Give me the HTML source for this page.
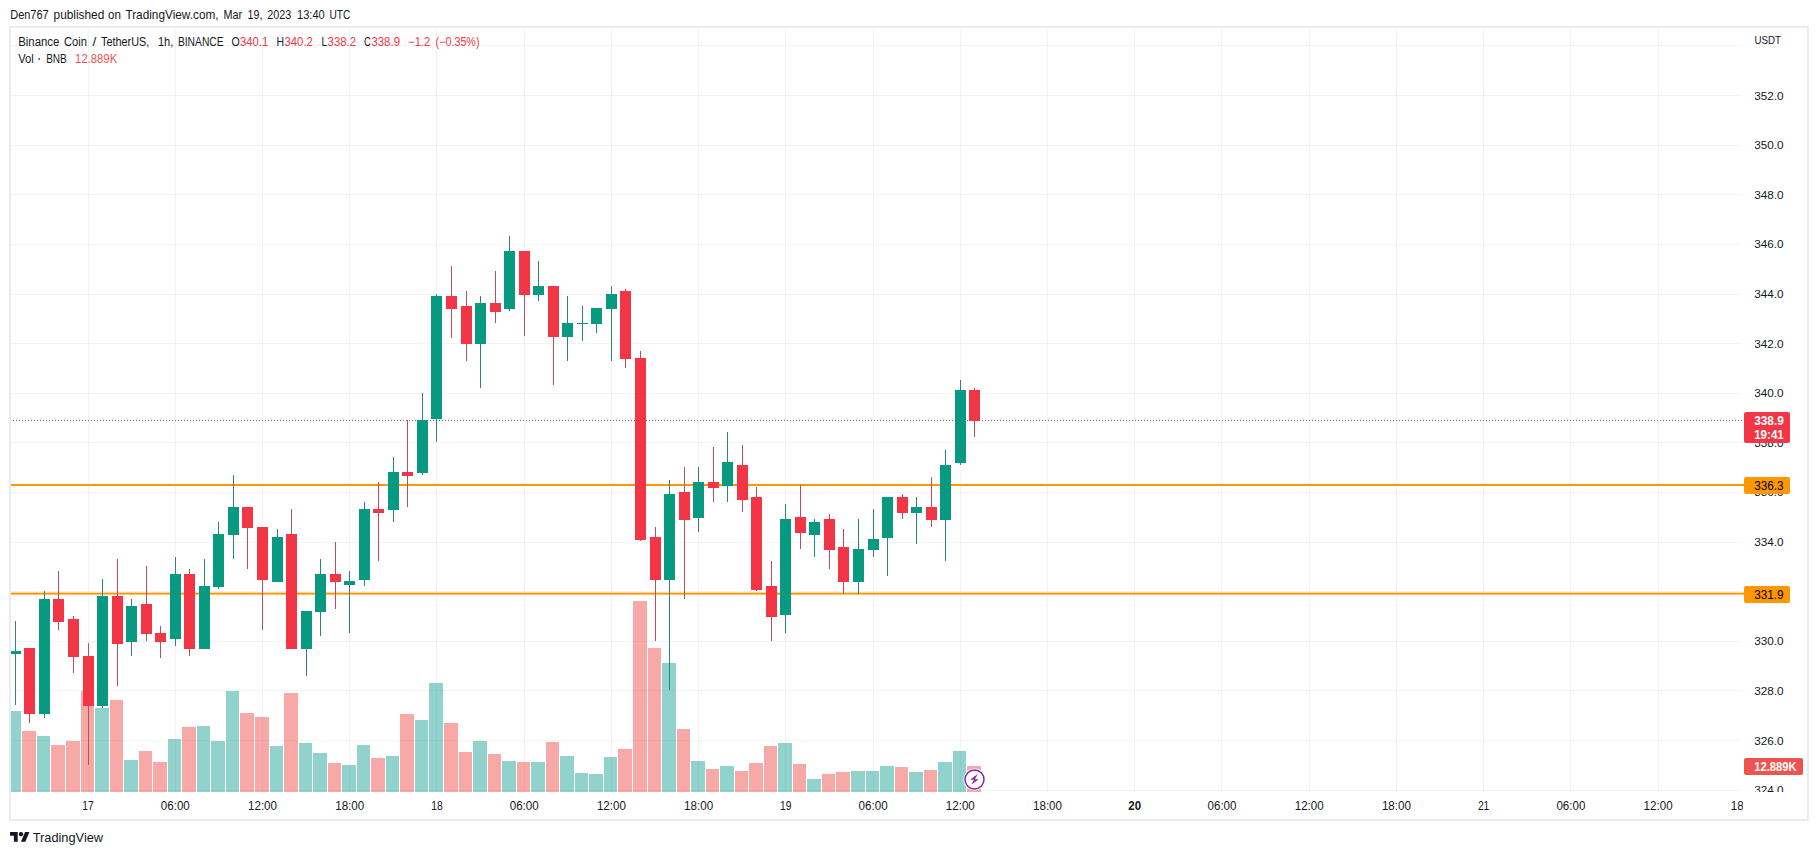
<!DOCTYPE html>
<html lang="en"><head><meta charset="utf-8"><title>BNBUSDT chart</title>
<style>
html,body{margin:0;padding:0;background:#fff}
body{width:1818px;height:855px;overflow:hidden;font-family:"Liberation Sans",sans-serif}
svg{display:block}
text{font-family:"Liberation Sans",sans-serif}
</style></head><body>
<svg width="1818" height="855" viewBox="0 0 1818 855">
<defs><linearGradient id="fade" x1="0" x2="1" y1="0" y2="0"><stop offset="0" stop-color="#fff" stop-opacity="0"/><stop offset="0.12" stop-color="#fff" stop-opacity="1"/><stop offset="1" stop-color="#fff" stop-opacity="1"/></linearGradient></defs>
<rect x="10" y="27" width="1798" height="793" fill="#fff" stroke="#ececee" stroke-width="2" shape-rendering="crispEdges"/>
<g shape-rendering="crispEdges" fill="#2a2e39" fill-opacity="0.06">
<rect x="88" y="28" width="1" height="764"/>
<rect x="175" y="28" width="1" height="764"/>
<rect x="262" y="28" width="1" height="764"/>
<rect x="349" y="28" width="1" height="764"/>
<rect x="436" y="28" width="1" height="764"/>
<rect x="524" y="28" width="1" height="764"/>
<rect x="611" y="28" width="1" height="764"/>
<rect x="698" y="28" width="1" height="764"/>
<rect x="785" y="28" width="1" height="764"/>
<rect x="873" y="28" width="1" height="764"/>
<rect x="960" y="28" width="1" height="764"/>
<rect x="1047" y="28" width="1" height="764"/>
<rect x="1134" y="28" width="1" height="764"/>
<rect x="1221" y="28" width="1" height="764"/>
<rect x="1309" y="28" width="1" height="764"/>
<rect x="1396" y="28" width="1" height="764"/>
<rect x="1483" y="28" width="1" height="764"/>
<rect x="1570" y="28" width="1" height="764"/>
<rect x="1658" y="28" width="1" height="764"/>
<rect x="11" y="45" width="1734" height="1"/>
<rect x="11" y="95" width="1734" height="1"/>
<rect x="11" y="145" width="1734" height="1"/>
<rect x="11" y="194" width="1734" height="1"/>
<rect x="11" y="244" width="1734" height="1"/>
<rect x="11" y="294" width="1734" height="1"/>
<rect x="11" y="343" width="1734" height="1"/>
<rect x="11" y="393" width="1734" height="1"/>
<rect x="11" y="442" width="1734" height="1"/>
<rect x="11" y="492" width="1734" height="1"/>
<rect x="11" y="542" width="1734" height="1"/>
<rect x="11" y="591" width="1734" height="1"/>
<rect x="11" y="641" width="1734" height="1"/>
<rect x="11" y="690" width="1734" height="1"/>
<rect x="11" y="740" width="1734" height="1"/>
<rect x="11" y="790" width="1734" height="1"/>
</g>
<rect x="1737" y="28" width="70" height="764" fill="url(#fade)"/>
<g shape-rendering="crispEdges">
<rect x="11" y="711" width="10" height="81" fill="#26a69a" fill-opacity="0.5"/>
<rect x="22" y="731" width="14" height="61" fill="#ef5350" fill-opacity="0.5"/>
<rect x="37" y="736" width="13" height="56" fill="#26a69a" fill-opacity="0.5"/>
<rect x="51" y="745" width="14" height="47" fill="#ef5350" fill-opacity="0.5"/>
<rect x="66" y="741" width="14" height="51" fill="#ef5350" fill-opacity="0.5"/>
<rect x="81" y="691" width="13" height="101" fill="#ef5350" fill-opacity="0.5"/>
<rect x="95" y="708" width="14" height="84" fill="#26a69a" fill-opacity="0.5"/>
<rect x="110" y="700" width="13" height="92" fill="#ef5350" fill-opacity="0.5"/>
<rect x="124" y="760" width="14" height="32" fill="#26a69a" fill-opacity="0.5"/>
<rect x="139" y="751" width="13" height="41" fill="#ef5350" fill-opacity="0.5"/>
<rect x="153" y="762" width="14" height="30" fill="#ef5350" fill-opacity="0.5"/>
<rect x="168" y="739" width="13" height="53" fill="#26a69a" fill-opacity="0.5"/>
<rect x="182" y="727" width="14" height="65" fill="#ef5350" fill-opacity="0.5"/>
<rect x="197" y="726" width="13" height="66" fill="#26a69a" fill-opacity="0.5"/>
<rect x="211" y="741" width="14" height="51" fill="#26a69a" fill-opacity="0.5"/>
<rect x="226" y="691" width="13" height="101" fill="#26a69a" fill-opacity="0.5"/>
<rect x="240" y="713" width="14" height="79" fill="#ef5350" fill-opacity="0.5"/>
<rect x="255" y="717" width="14" height="75" fill="#ef5350" fill-opacity="0.5"/>
<rect x="270" y="746" width="13" height="46" fill="#26a69a" fill-opacity="0.5"/>
<rect x="284" y="693" width="14" height="99" fill="#ef5350" fill-opacity="0.5"/>
<rect x="299" y="743" width="13" height="49" fill="#26a69a" fill-opacity="0.5"/>
<rect x="313" y="753" width="14" height="39" fill="#26a69a" fill-opacity="0.5"/>
<rect x="328" y="763" width="13" height="29" fill="#ef5350" fill-opacity="0.5"/>
<rect x="342" y="765" width="14" height="27" fill="#26a69a" fill-opacity="0.5"/>
<rect x="357" y="745" width="13" height="47" fill="#26a69a" fill-opacity="0.5"/>
<rect x="371" y="758" width="14" height="34" fill="#ef5350" fill-opacity="0.5"/>
<rect x="386" y="756" width="13" height="36" fill="#26a69a" fill-opacity="0.5"/>
<rect x="400" y="714" width="14" height="78" fill="#ef5350" fill-opacity="0.5"/>
<rect x="415" y="720" width="13" height="72" fill="#26a69a" fill-opacity="0.5"/>
<rect x="429" y="683" width="14" height="109" fill="#26a69a" fill-opacity="0.5"/>
<rect x="444" y="723" width="14" height="69" fill="#ef5350" fill-opacity="0.5"/>
<rect x="459" y="752" width="13" height="40" fill="#ef5350" fill-opacity="0.5"/>
<rect x="473" y="741" width="14" height="51" fill="#26a69a" fill-opacity="0.5"/>
<rect x="488" y="754" width="13" height="38" fill="#ef5350" fill-opacity="0.5"/>
<rect x="502" y="761" width="14" height="31" fill="#26a69a" fill-opacity="0.5"/>
<rect x="517" y="762" width="13" height="30" fill="#ef5350" fill-opacity="0.5"/>
<rect x="531" y="762" width="14" height="30" fill="#26a69a" fill-opacity="0.5"/>
<rect x="546" y="742" width="13" height="50" fill="#ef5350" fill-opacity="0.5"/>
<rect x="560" y="756" width="14" height="36" fill="#26a69a" fill-opacity="0.5"/>
<rect x="575" y="773" width="13" height="19" fill="#26a69a" fill-opacity="0.5"/>
<rect x="589" y="774" width="14" height="18" fill="#26a69a" fill-opacity="0.5"/>
<rect x="604" y="757" width="13" height="35" fill="#26a69a" fill-opacity="0.5"/>
<rect x="618" y="749" width="14" height="43" fill="#ef5350" fill-opacity="0.5"/>
<rect x="633" y="601" width="14" height="191" fill="#ef5350" fill-opacity="0.5"/>
<rect x="648" y="648" width="13" height="144" fill="#ef5350" fill-opacity="0.5"/>
<rect x="662" y="663" width="14" height="129" fill="#26a69a" fill-opacity="0.5"/>
<rect x="677" y="729" width="13" height="63" fill="#ef5350" fill-opacity="0.5"/>
<rect x="691" y="761" width="14" height="31" fill="#26a69a" fill-opacity="0.5"/>
<rect x="706" y="769" width="13" height="23" fill="#ef5350" fill-opacity="0.5"/>
<rect x="720" y="766" width="14" height="26" fill="#26a69a" fill-opacity="0.5"/>
<rect x="735" y="771" width="13" height="21" fill="#ef5350" fill-opacity="0.5"/>
<rect x="749" y="763" width="14" height="29" fill="#ef5350" fill-opacity="0.5"/>
<rect x="764" y="746" width="13" height="46" fill="#ef5350" fill-opacity="0.5"/>
<rect x="778" y="743" width="14" height="49" fill="#26a69a" fill-opacity="0.5"/>
<rect x="793" y="764" width="13" height="28" fill="#ef5350" fill-opacity="0.5"/>
<rect x="807" y="779" width="14" height="13" fill="#26a69a" fill-opacity="0.5"/>
<rect x="822" y="774" width="13" height="18" fill="#ef5350" fill-opacity="0.5"/>
<rect x="836" y="772" width="14" height="20" fill="#ef5350" fill-opacity="0.5"/>
<rect x="851" y="771" width="14" height="21" fill="#26a69a" fill-opacity="0.5"/>
<rect x="866" y="771" width="13" height="21" fill="#26a69a" fill-opacity="0.5"/>
<rect x="880" y="766" width="14" height="26" fill="#26a69a" fill-opacity="0.5"/>
<rect x="895" y="767" width="13" height="25" fill="#ef5350" fill-opacity="0.5"/>
<rect x="909" y="772" width="14" height="20" fill="#26a69a" fill-opacity="0.5"/>
<rect x="924" y="770" width="13" height="22" fill="#ef5350" fill-opacity="0.5"/>
<rect x="938" y="762" width="14" height="30" fill="#26a69a" fill-opacity="0.5"/>
<rect x="953" y="751" width="13" height="41" fill="#26a69a" fill-opacity="0.5"/>
<rect x="967" y="766" width="14" height="26" fill="#ef5350" fill-opacity="0.5"/>
</g>
<g shape-rendering="crispEdges">
<rect x="11" y="484" width="1733" height="2" fill="#FF9800"/>
<rect x="11" y="592.6" width="1733" height="2" fill="#FF9800" shape-rendering="geometricPrecision"/>
</g>
<line x1="13" y1="420.5" x2="1742" y2="420.5" stroke="#96586a" stroke-width="1" stroke-dasharray="1 2" shape-rendering="crispEdges"/>
<g shape-rendering="crispEdges">
<rect x="15" y="621" width="1" height="84" fill="#2a8676"/>
<rect x="11" y="651" width="10" height="3" fill="#089981"/>
<rect x="29" y="648" width="1" height="75" fill="#b94f5c"/>
<rect x="24" y="648" width="11" height="66" fill="#F23645"/>
<rect x="44" y="591" width="1" height="127" fill="#2a8676"/>
<rect x="39" y="599" width="11" height="115" fill="#089981"/>
<rect x="58" y="571" width="1" height="59" fill="#b94f5c"/>
<rect x="53" y="599" width="11" height="23" fill="#F23645"/>
<rect x="73" y="616" width="1" height="57" fill="#b94f5c"/>
<rect x="68" y="619" width="11" height="38" fill="#F23645"/>
<rect x="88" y="643" width="1" height="122" fill="#b94f5c"/>
<rect x="83" y="656" width="11" height="50" fill="#F23645"/>
<rect x="102" y="579" width="1" height="129" fill="#2a8676"/>
<rect x="97" y="596" width="11" height="110" fill="#089981"/>
<rect x="117" y="559" width="1" height="127" fill="#b94f5c"/>
<rect x="112" y="596" width="11" height="48" fill="#F23645"/>
<rect x="131" y="599" width="1" height="57" fill="#2a8676"/>
<rect x="126" y="606" width="11" height="36" fill="#089981"/>
<rect x="146" y="566" width="1" height="75" fill="#b94f5c"/>
<rect x="141" y="604" width="11" height="30" fill="#F23645"/>
<rect x="160" y="626" width="1" height="32" fill="#b94f5c"/>
<rect x="155" y="633" width="11" height="9" fill="#F23645"/>
<rect x="175" y="557" width="1" height="89" fill="#2a8676"/>
<rect x="170" y="574" width="11" height="65" fill="#089981"/>
<rect x="189" y="569" width="1" height="87" fill="#b94f5c"/>
<rect x="184" y="574" width="11" height="75" fill="#F23645"/>
<rect x="204" y="559" width="1" height="90" fill="#2a8676"/>
<rect x="199" y="586" width="11" height="63" fill="#089981"/>
<rect x="218" y="522" width="1" height="67" fill="#2a8676"/>
<rect x="213" y="534" width="11" height="53" fill="#089981"/>
<rect x="233" y="475" width="1" height="84" fill="#2a8676"/>
<rect x="228" y="507" width="11" height="28" fill="#089981"/>
<rect x="247" y="507" width="1" height="62" fill="#b94f5c"/>
<rect x="242" y="507" width="11" height="21" fill="#F23645"/>
<rect x="262" y="527" width="1" height="103" fill="#b94f5c"/>
<rect x="257" y="527" width="11" height="53" fill="#F23645"/>
<rect x="277" y="529" width="1" height="53" fill="#2a8676"/>
<rect x="272" y="537" width="11" height="45" fill="#089981"/>
<rect x="291" y="509" width="1" height="140" fill="#b94f5c"/>
<rect x="286" y="534" width="11" height="115" fill="#F23645"/>
<rect x="306" y="611" width="1" height="65" fill="#2a8676"/>
<rect x="301" y="611" width="11" height="38" fill="#089981"/>
<rect x="320" y="559" width="1" height="77" fill="#2a8676"/>
<rect x="315" y="574" width="11" height="38" fill="#089981"/>
<rect x="335" y="542" width="1" height="67" fill="#b94f5c"/>
<rect x="330" y="574" width="11" height="8" fill="#F23645"/>
<rect x="349" y="571" width="1" height="62" fill="#2a8676"/>
<rect x="344" y="581" width="11" height="4" fill="#089981"/>
<rect x="364" y="502" width="1" height="84" fill="#2a8676"/>
<rect x="359" y="509" width="11" height="71" fill="#089981"/>
<rect x="378" y="482" width="1" height="79" fill="#b94f5c"/>
<rect x="373" y="509" width="11" height="4" fill="#F23645"/>
<rect x="393" y="457" width="1" height="65" fill="#2a8676"/>
<rect x="388" y="472" width="11" height="38" fill="#089981"/>
<rect x="407" y="420" width="1" height="87" fill="#b94f5c"/>
<rect x="402" y="472" width="11" height="4" fill="#F23645"/>
<rect x="422" y="393" width="1" height="82" fill="#2a8676"/>
<rect x="417" y="420" width="11" height="53" fill="#089981"/>
<rect x="436" y="294" width="1" height="148" fill="#2a8676"/>
<rect x="431" y="296" width="11" height="123" fill="#089981"/>
<rect x="451" y="266" width="1" height="72" fill="#b94f5c"/>
<rect x="446" y="296" width="11" height="13" fill="#F23645"/>
<rect x="466" y="291" width="1" height="70" fill="#b94f5c"/>
<rect x="461" y="306" width="11" height="38" fill="#F23645"/>
<rect x="480" y="296" width="1" height="92" fill="#2a8676"/>
<rect x="475" y="303" width="11" height="41" fill="#089981"/>
<rect x="495" y="271" width="1" height="52" fill="#b94f5c"/>
<rect x="490" y="303" width="11" height="9" fill="#F23645"/>
<rect x="509" y="236" width="1" height="75" fill="#2a8676"/>
<rect x="504" y="251" width="11" height="58" fill="#089981"/>
<rect x="524" y="251" width="1" height="85" fill="#b94f5c"/>
<rect x="519" y="251" width="11" height="44" fill="#F23645"/>
<rect x="538" y="261" width="1" height="40" fill="#2a8676"/>
<rect x="533" y="286" width="11" height="9" fill="#089981"/>
<rect x="553" y="286" width="1" height="99" fill="#b94f5c"/>
<rect x="548" y="286" width="11" height="51" fill="#F23645"/>
<rect x="567" y="296" width="1" height="65" fill="#2a8676"/>
<rect x="562" y="323" width="11" height="14" fill="#089981"/>
<rect x="582" y="306" width="1" height="35" fill="#2a8676"/>
<rect x="577" y="323" width="11" height="1" fill="#089981"/>
<rect x="596" y="308" width="1" height="25" fill="#2a8676"/>
<rect x="591" y="308" width="11" height="16" fill="#089981"/>
<rect x="611" y="286" width="1" height="75" fill="#2a8676"/>
<rect x="606" y="294" width="11" height="15" fill="#089981"/>
<rect x="625" y="289" width="1" height="79" fill="#b94f5c"/>
<rect x="620" y="291" width="11" height="68" fill="#F23645"/>
<rect x="640" y="351" width="1" height="190" fill="#b94f5c"/>
<rect x="635" y="358" width="11" height="182" fill="#F23645"/>
<rect x="655" y="527" width="1" height="114" fill="#b94f5c"/>
<rect x="650" y="537" width="11" height="43" fill="#F23645"/>
<rect x="669" y="480" width="1" height="210" fill="#2a8676"/>
<rect x="664" y="494" width="11" height="86" fill="#089981"/>
<rect x="684" y="467" width="1" height="132" fill="#b94f5c"/>
<rect x="679" y="492" width="11" height="28" fill="#F23645"/>
<rect x="698" y="467" width="1" height="65" fill="#2a8676"/>
<rect x="693" y="482" width="11" height="36" fill="#089981"/>
<rect x="713" y="447" width="1" height="55" fill="#b94f5c"/>
<rect x="708" y="482" width="11" height="6" fill="#F23645"/>
<rect x="727" y="432" width="1" height="70" fill="#2a8676"/>
<rect x="722" y="462" width="11" height="24" fill="#089981"/>
<rect x="742" y="445" width="1" height="67" fill="#b94f5c"/>
<rect x="737" y="465" width="11" height="35" fill="#F23645"/>
<rect x="756" y="487" width="1" height="104" fill="#b94f5c"/>
<rect x="751" y="497" width="11" height="93" fill="#F23645"/>
<rect x="771" y="561" width="1" height="80" fill="#b94f5c"/>
<rect x="766" y="586" width="11" height="31" fill="#F23645"/>
<rect x="785" y="504" width="1" height="129" fill="#2a8676"/>
<rect x="780" y="519" width="11" height="96" fill="#089981"/>
<rect x="800" y="485" width="1" height="64" fill="#b94f5c"/>
<rect x="795" y="517" width="11" height="16" fill="#F23645"/>
<rect x="814" y="519" width="1" height="38" fill="#2a8676"/>
<rect x="809" y="522" width="11" height="13" fill="#089981"/>
<rect x="829" y="514" width="1" height="55" fill="#b94f5c"/>
<rect x="824" y="519" width="11" height="31" fill="#F23645"/>
<rect x="843" y="529" width="1" height="65" fill="#b94f5c"/>
<rect x="838" y="547" width="11" height="35" fill="#F23645"/>
<rect x="858" y="519" width="1" height="75" fill="#2a8676"/>
<rect x="853" y="549" width="11" height="33" fill="#089981"/>
<rect x="873" y="509" width="1" height="48" fill="#2a8676"/>
<rect x="868" y="539" width="11" height="11" fill="#089981"/>
<rect x="887" y="497" width="1" height="79" fill="#2a8676"/>
<rect x="882" y="497" width="11" height="41" fill="#089981"/>
<rect x="902" y="494" width="1" height="25" fill="#b94f5c"/>
<rect x="897" y="497" width="11" height="16" fill="#F23645"/>
<rect x="916" y="497" width="1" height="47" fill="#2a8676"/>
<rect x="911" y="507" width="11" height="6" fill="#089981"/>
<rect x="931" y="477" width="1" height="50" fill="#b94f5c"/>
<rect x="926" y="507" width="11" height="13" fill="#F23645"/>
<rect x="945" y="450" width="1" height="111" fill="#2a8676"/>
<rect x="940" y="465" width="11" height="55" fill="#089981"/>
<rect x="960" y="380" width="1" height="85" fill="#2a8676"/>
<rect x="955" y="390" width="11" height="73" fill="#089981"/>
<rect x="974" y="388" width="1" height="49" fill="#b94f5c"/>
<rect x="969" y="390" width="11" height="31" fill="#F23645"/>
</g>
<clipPath id="axclip"><rect x="1744" y="28" width="63" height="764"/></clipPath>
<g clip-path="url(#axclip)">
<text x="1754.2" y="793.7" font-size="11.5" fill="#131722" textLength="29.4" lengthAdjust="spacingAndGlyphs" >324.0</text>
<text x="1754.2" y="744.7" font-size="11.5" fill="#131722" textLength="29.4" lengthAdjust="spacingAndGlyphs" >326.0</text>
<text x="1754.2" y="694.7" font-size="11.5" fill="#131722" textLength="29.4" lengthAdjust="spacingAndGlyphs" >328.0</text>
<text x="1754.2" y="644.7" font-size="11.5" fill="#131722" textLength="29.4" lengthAdjust="spacingAndGlyphs" >330.0</text>
<text x="1754.2" y="595.7" font-size="11.5" fill="#131722" textLength="29.4" lengthAdjust="spacingAndGlyphs" >332.0</text>
<text x="1754.2" y="545.7" font-size="11.5" fill="#131722" textLength="29.4" lengthAdjust="spacingAndGlyphs" >334.0</text>
<text x="1754.2" y="495.7" font-size="11.5" fill="#131722" textLength="29.4" lengthAdjust="spacingAndGlyphs" >336.0</text>
<text x="1754.2" y="446.7" font-size="11.5" fill="#131722" textLength="29.4" lengthAdjust="spacingAndGlyphs" >338.0</text>
<text x="1754.2" y="396.7" font-size="11.5" fill="#131722" textLength="29.4" lengthAdjust="spacingAndGlyphs" >340.0</text>
<text x="1754.2" y="347.7" font-size="11.5" fill="#131722" textLength="29.4" lengthAdjust="spacingAndGlyphs" >342.0</text>
<text x="1754.2" y="297.7" font-size="11.5" fill="#131722" textLength="29.4" lengthAdjust="spacingAndGlyphs" >344.0</text>
<text x="1754.2" y="247.7" font-size="11.5" fill="#131722" textLength="29.4" lengthAdjust="spacingAndGlyphs" >346.0</text>
<text x="1754.2" y="198.7" font-size="11.5" fill="#131722" textLength="29.4" lengthAdjust="spacingAndGlyphs" >348.0</text>
<text x="1754.2" y="148.7" font-size="11.5" fill="#131722" textLength="29.4" lengthAdjust="spacingAndGlyphs" >350.0</text>
<text x="1754.2" y="99.7" font-size="11.5" fill="#131722" textLength="29.4" lengthAdjust="spacingAndGlyphs" >352.0</text>
</g>
<text x="1754.4" y="44.0" font-size="11.5" fill="#131722" textLength="26.5" lengthAdjust="spacingAndGlyphs" >USDT</text>
<rect x="1744" y="412" width="46" height="31" rx="2" fill="#F23645"/>
<text x="1754.2" y="424.6" font-size="12" fill="#fff" font-weight="bold" textLength="29.6" lengthAdjust="spacingAndGlyphs" >338.9</text>
<text x="1754.2" y="439.2" font-size="12" fill="#fff" font-weight="bold" textLength="29.6" lengthAdjust="spacingAndGlyphs" >19:41</text>
<rect x="1744" y="477" width="46" height="17" rx="2" fill="#FF9800"/>
<text x="1754.2" y="489.8" font-size="12" fill="#000" textLength="29.4" lengthAdjust="spacingAndGlyphs" >336.3</text>
<rect x="1744" y="586" width="46" height="17" rx="2" fill="#FF9800"/>
<text x="1754.2" y="598.8" font-size="12" fill="#000" textLength="29.4" lengthAdjust="spacingAndGlyphs" >331.9</text>
<rect x="1744" y="758" width="59" height="17" rx="2" fill="#ef5350"/>
<text x="1754.2" y="770.8" font-size="12" fill="#fff" font-weight="bold" textLength="42.5" lengthAdjust="spacingAndGlyphs" >12.889K</text>
<clipPath id="tclip"><rect x="11" y="792" width="1732" height="27"/></clipPath>
<g clip-path="url(#tclip)">
<text x="82.3" y="810" font-size="12" fill="#131722" textLength="11.4" lengthAdjust="spacingAndGlyphs" >17</text>
<text x="160.8" y="810" font-size="12" fill="#131722" textLength="29.0" lengthAdjust="spacingAndGlyphs" >06:00</text>
<text x="248.0" y="810" font-size="12" fill="#131722" textLength="29.0" lengthAdjust="spacingAndGlyphs" >12:00</text>
<text x="335.2" y="810" font-size="12" fill="#131722" textLength="29.0" lengthAdjust="spacingAndGlyphs" >18:00</text>
<text x="431.2" y="810" font-size="12" fill="#131722" textLength="11.4" lengthAdjust="spacingAndGlyphs" >18</text>
<text x="509.7" y="810" font-size="12" fill="#131722" textLength="29.0" lengthAdjust="spacingAndGlyphs" >06:00</text>
<text x="596.9" y="810" font-size="12" fill="#131722" textLength="29.0" lengthAdjust="spacingAndGlyphs" >12:00</text>
<text x="684.1" y="810" font-size="12" fill="#131722" textLength="29.0" lengthAdjust="spacingAndGlyphs" >18:00</text>
<text x="780.1" y="810" font-size="12" fill="#131722" textLength="11.4" lengthAdjust="spacingAndGlyphs" >19</text>
<text x="858.6" y="810" font-size="12" fill="#131722" textLength="29.0" lengthAdjust="spacingAndGlyphs" >06:00</text>
<text x="945.8" y="810" font-size="12" fill="#131722" textLength="29.0" lengthAdjust="spacingAndGlyphs" >12:00</text>
<text x="1033.0" y="810" font-size="12" fill="#131722" textLength="29.0" lengthAdjust="spacingAndGlyphs" >18:00</text>
<text x="1128.3" y="810" font-size="12" fill="#131722" font-weight="bold" textLength="12.8" lengthAdjust="spacingAndGlyphs" >20</text>
<text x="1207.5" y="810" font-size="12" fill="#131722" textLength="29.0" lengthAdjust="spacingAndGlyphs" >06:00</text>
<text x="1294.7" y="810" font-size="12" fill="#131722" textLength="29.0" lengthAdjust="spacingAndGlyphs" >12:00</text>
<text x="1381.9" y="810" font-size="12" fill="#131722" textLength="29.0" lengthAdjust="spacingAndGlyphs" >18:00</text>
<text x="1477.9" y="810" font-size="12" fill="#131722" textLength="11.4" lengthAdjust="spacingAndGlyphs" >21</text>
<text x="1556.4" y="810" font-size="12" fill="#131722" textLength="29.0" lengthAdjust="spacingAndGlyphs" >06:00</text>
<text x="1643.6" y="810" font-size="12" fill="#131722" textLength="29.0" lengthAdjust="spacingAndGlyphs" >12:00</text>
<text x="1730.8" y="810" font-size="12" fill="#131722" textLength="29.0" lengthAdjust="spacingAndGlyphs" >18:00</text>
</g>
<text x="10.2" y="18.9" font-size="13" fill="#131722" textLength="38.5" lengthAdjust="spacingAndGlyphs" >Den767</text>
<text x="53.6" y="18.9" font-size="13" fill="#131722" textLength="50.7" lengthAdjust="spacingAndGlyphs" >published</text>
<text x="108.1" y="18.9" font-size="13" fill="#131722" textLength="12.9" lengthAdjust="spacingAndGlyphs" >on</text>
<text x="125.4" y="18.9" font-size="13" fill="#131722" textLength="93.2" lengthAdjust="spacingAndGlyphs" >TradingView.com,</text>
<text x="223.6" y="18.9" font-size="13" fill="#131722" textLength="18.6" lengthAdjust="spacingAndGlyphs" >Mar</text>
<text x="247.6" y="18.9" font-size="13" fill="#131722" textLength="14.8" lengthAdjust="spacingAndGlyphs" >19,</text>
<text x="267.3" y="18.9" font-size="13" fill="#131722" textLength="24.0" lengthAdjust="spacingAndGlyphs" >2023</text>
<text x="297.0" y="18.9" font-size="13" fill="#131722" textLength="27.8" lengthAdjust="spacingAndGlyphs" >13:40</text>
<text x="329.4" y="18.9" font-size="13" fill="#131722" textLength="20.9" lengthAdjust="spacingAndGlyphs" >UTC</text>
<text x="18.2" y="45.9" font-size="12" fill="#131722" textLength="41.2" lengthAdjust="spacingAndGlyphs" >Binance</text>
<text x="64" y="45.9" font-size="12" fill="#131722" textLength="23" lengthAdjust="spacingAndGlyphs" >Coin</text>
<text x="92.4" y="45.9" font-size="12" fill="#131722" textLength="3.8" lengthAdjust="spacingAndGlyphs" >/</text>
<text x="101" y="45.9" font-size="12" fill="#131722" textLength="48.3" lengthAdjust="spacingAndGlyphs" >TetherUS,</text>
<text x="157.9" y="45.9" font-size="12" fill="#131722" textLength="15.4" lengthAdjust="spacingAndGlyphs" >1h,</text>
<text x="177.9" y="45.9" font-size="12" fill="#131722" textLength="45.7" lengthAdjust="spacingAndGlyphs" >BINANCE</text>
<text x="231.5" y="45.9" font-size="12" fill="#131722" textLength="8.2" lengthAdjust="spacingAndGlyphs" >O</text>
<text x="239.9" y="45.9" font-size="12" fill="#F23645" textLength="28.3" lengthAdjust="spacingAndGlyphs" >340.1</text>
<text x="276.4" y="45.9" font-size="12" fill="#131722" textLength="7.6" lengthAdjust="spacingAndGlyphs" >H</text>
<text x="284.4" y="45.9" font-size="12" fill="#F23645" textLength="28.5" lengthAdjust="spacingAndGlyphs" >340.2</text>
<text x="321.5" y="45.9" font-size="12" fill="#131722" textLength="5.6" lengthAdjust="spacingAndGlyphs" >L</text>
<text x="327.6" y="45.9" font-size="12" fill="#F23645" textLength="28.5" lengthAdjust="spacingAndGlyphs" >338.2</text>
<text x="364" y="45.9" font-size="12" fill="#131722" textLength="6.8" lengthAdjust="spacingAndGlyphs" >C</text>
<text x="371.4" y="45.9" font-size="12" fill="#F23645" textLength="28.6" lengthAdjust="spacingAndGlyphs" >338.9</text>
<text x="408.1" y="45.9" font-size="12" fill="#F23645" textLength="22.3" lengthAdjust="spacingAndGlyphs" >−1.2</text>
<text x="435.6" y="45.9" font-size="12" fill="#F23645" textLength="43.9" lengthAdjust="spacingAndGlyphs" >(−0.35%)</text>
<text x="18.2" y="62.7" font-size="12" fill="#131722" textLength="15.6" lengthAdjust="spacingAndGlyphs" >Vol</text>
<text x="38.0" y="62.7" font-size="12" fill="#131722" font-weight="bold" textLength="2.6" lengthAdjust="spacingAndGlyphs" >·</text>
<text x="46.2" y="62.7" font-size="12" fill="#131722" textLength="20.6" lengthAdjust="spacingAndGlyphs" >BNB</text>
<text x="75.1" y="62.7" font-size="12" fill="#ef5350" textLength="42.1" lengthAdjust="spacingAndGlyphs" >12.889K</text>
<g transform="translate(974.5 779.45)"><circle r="11" fill="#fff"/><circle r="9.5" fill="#fff" stroke="#8a25a8" stroke-width="1.5"/><path d="M3.25 -5.33 L-4.37 0.3 L-0.44 0.3 L-3.32 5.33 L4.19 -0.3 L0.44 -0.3 Z" fill="#8a25a8"/></g>
<g transform="translate(10.05 829.9) scale(0.546 0.54)" fill="#131722"><path d="M14 22H7V11H0V4h14v18zM28 22h-8l7.5-18h8L28 22z"/><circle cx="20" cy="8" r="4"/></g>
<text x="32.7" y="841.8" font-size="13" fill="#131722" textLength="70.4" lengthAdjust="spacingAndGlyphs" >TradingView</text>
</svg>
</body></html>
